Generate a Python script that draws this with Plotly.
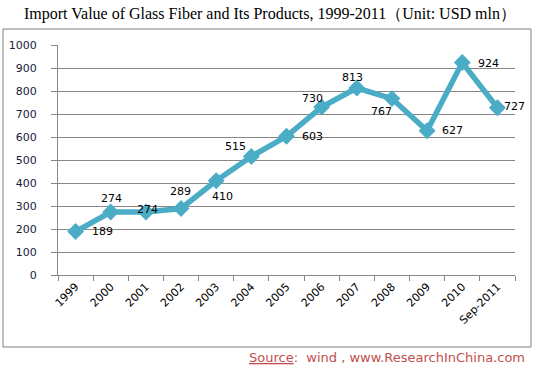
import plotly.graph_objects as go

categories = ["1999", "2000", "2001", "2002", "2003", "2004", "2005",
              "2006", "2007", "2008", "2009", "2010", "Sep-2011"]
values = [189, 274, 274, 289, 410, 515, 603, 730, 813, 767, 627, 924, 727]
y_ticks = [0, 100, 200, 300, 400, 500, 600, 700, 800, 900, 1000]

# label offsets in pixels (style only)
label_dx = [27, 1, 2, -1, 6, -16, 26, -9, -4, -10, 25, 26, 17]
label_dy = [0, 13, 2, 17, -16, 10, 0, 9, 11, -13, 0, -1, 1]

LINE = "#4bacc6"
GRID = "#868686"

fig = go.Figure()
fig.add_trace(go.Scatter(
    x=categories, y=values, mode="lines+markers",
    line=dict(color=LINE, width=5.5),
    marker=dict(symbol="diamond", size=13, color=LINE),
    hoverinfo="skip", showlegend=False,
))

annotations = []
for i, (v, dx, dy) in enumerate(zip(values, label_dx, label_dy)):
    annotations.append(dict(x=i, y=v, xref="x", yref="y", text=str(v), showarrow=False,
                            xshift=dx, yshift=dy,
                            font=dict(family="DejaVu Sans", size=11, color="#000000")))

annotations += [
    dict(xref="paper", yref="paper", x=(22 - 58) / 457, y=(275 - 14) / 230,
         xanchor="left", yanchor="middle", showarrow=False,
         text="Import Value of Glass Fiber and Its Products, 1999-2011（Unit: USD mln）",
         font=dict(family="Liberation Serif", size=16, color="#000000")),
    dict(xref="paper", yref="paper", x=(527 - 58) / 457, y=(275 - 357) / 230,
         xanchor="right", yanchor="middle", showarrow=False,
         text="<u>Source</u>:  wind , www.ResearchInChina.com",
         font=dict(family="DejaVu Sans", size=13, color="#c0504d")),
]

fig.update_layout(
    width=534, height=367,
    margin=dict(l=58, r=19, t=45, b=92, autoexpand=False),
    paper_bgcolor="white", plot_bgcolor="white",
    xaxis=dict(
        type="category", tickson="boundaries", ticks="outside", ticklen=5,
        tickcolor=GRID, showline=True, linecolor=GRID, linewidth=1,
        showgrid=False, tickangle=-45, automargin=False,
        tickfont=dict(family="DejaVu Sans", size=11, color="#000000"),
        range=[-0.5, len(categories) - 0.5],
    ),
    yaxis=dict(
        range=[0, 1000], tickvals=y_ticks, ticks="outside", ticklen=6,
        tickcolor=GRID, showline=True, linecolor=GRID, linewidth=1,
        showgrid=True, gridcolor=GRID, gridwidth=1, zeroline=False,
        ticklabelstandoff=12, automargin=False,
        tickfont=dict(family="DejaVu Sans", size=11, color="#1a1a3a"),
    ),
    shapes=[dict(type="rect", xref="paper", yref="paper",
                 x0=(3 - 58) / 457, x1=(531 - 58) / 457,
                 y0=(275 - 347) / 230, y1=(275 - 29) / 230,
                 line=dict(color="#7f7f7f", width=1), fillcolor="rgba(0,0,0,0)",
                 layer="below")],
    annotations=annotations,
)

fig.write_html("out.html", config={"displayModeBar": False},
               post_script="document.body.style.margin='0';document.body.style.overflow='hidden';")
